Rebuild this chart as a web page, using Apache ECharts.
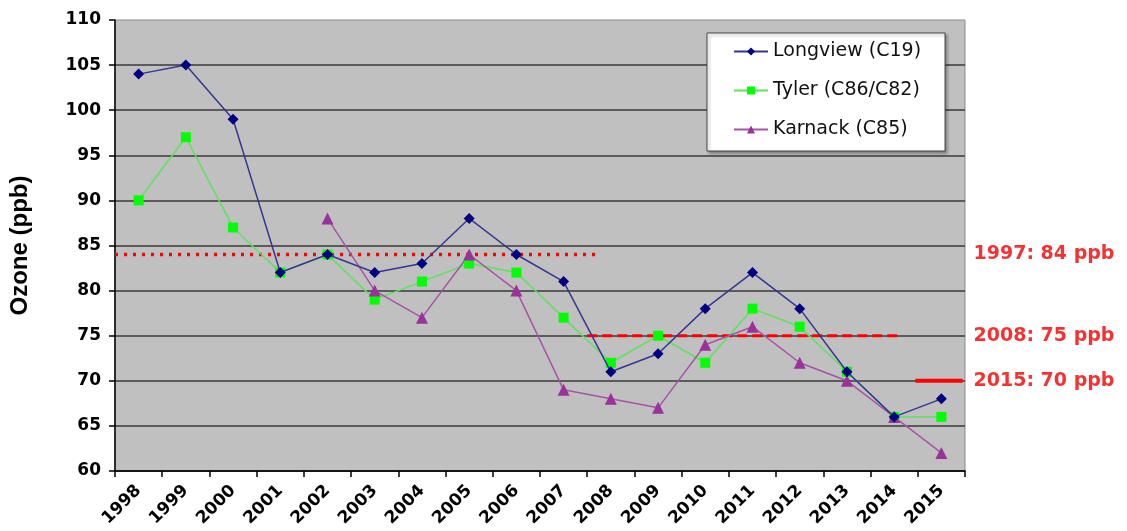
<!DOCTYPE html>
<html>
<head>
<meta charset="utf-8">
<script src="https://cdn.jsdelivr.net/npm/echarts@6/dist/echarts.min.js"></script>
<style>
  html, body { margin: 0; padding: 0; background: #fff; }
  #chart { width: 1127px; height: 531px; }
</style>
</head>
<body>
<div id="chart"></div>
<script>
// Ozone design values, East Texas monitors
const years = ['1998', '1999', '2000', '2001', '2002', '2003', '2004', '2005', '2006',
               '2007', '2008', '2009', '2010', '2011', '2012', '2013', '2014', '2015'];
const longview = [104, 105, 99, 82, 84, 82, 83, 88, 84, 81, 71, 73, 78, 82, 78, 71, 66, 68];
const tyler    = [90, 97, 87, 82, 84, 79, 81, 83, 82, 77, 72, 75, 72, 78, 76, 71, 66, 66];
const karnack  = [null, null, null, null, 88, 80, 77, 84, 80, 69, 68, 67, 74, 76, 72, 70, 66, 62];

// standard lines, x in category-band units (0 = left edge, 18 = right edge)
const std1997 = [[0, 84], [10.2, 84]];
const std2008 = [[10.0, 75], [16.6, 75]];
const std2015 = [[16.95, 70], [17.95, 70]];
const stdLabels = [[18, 84, '1997: 84 ppb'], [18, 75, '2008: 75 ppb'], [18, 70, '2015: 70 ppb']];

const chart = echarts.init(document.getElementById('chart'));

const refLine = (data, type, width) => ({
    type: 'line',
    xAxisIndex: 1,
    data: data,
    showSymbol: false,
    silent: true,
    lineStyle: { color: '#ff0000', width: width, type: type, cap: 'butt' },
    z: 3
});

chart.setOption({
    animation: false,
    grid: {
        left: 115, right: 162, top: 20, bottom: 60,
        show: true,
        backgroundColor: '#c0c0c0',
        borderColor: '#8c8c8c',
        borderWidth: 1,
        outerBoundsMode: 'none'
    },
    legend: {
        orient: 'vertical',
        left: 707,
        top: 33,
        data: ['Longview (C19)', 'Tyler (C86/C82)', 'Karnack (C85)'],
        backgroundColor: '#fff',
        borderColor: '#444',
        borderWidth: 1,
        shadowColor: 'rgba(0,0,0,0.35)',
        shadowBlur: 3,
        shadowOffsetX: 2,
        shadowOffsetY: 2,
        padding: [9, 24, 12, 26],
        itemGap: 20,
        itemWidth: 34,
        itemHeight: 10,
        textStyle: { fontFamily: 'DejaVu Sans', fontSize: 19, color: '#111' }
    },
    xAxis: [{
        type: 'category',
        data: years,
        boundaryGap: true,
        axisLine: { lineStyle: { color: '#000', width: 1.5 } },
        axisTick: { show: true, length: 6, lineStyle: { color: '#000', width: 1.5 } },
        axisLabel: {
            interval: 0, rotate: 45, margin: 17,
            fontFamily: 'DejaVu Sans', fontWeight: 'bold', fontSize: 17, color: '#000'
        },
        splitLine: { show: false }
    }, {
        type: 'value', min: 0, max: 18, show: false
    }],
    yAxis: {
        type: 'value',
        min: 60, max: 110, interval: 5,
        name: 'Ozone (ppb)',
        nameLocation: 'middle',
        nameGap: 83,
        nameTextStyle: { fontFamily: 'Liberation Sans', fontWeight: 'bold', fontSize: 24, color: '#000' },
        axisLine: { show: true, lineStyle: { color: '#000', width: 1.5 } },
        axisTick: { show: true, length: 6, lineStyle: { color: '#000', width: 1.5 } },
        axisLabel: { margin: 14, fontFamily: 'DejaVu Sans', fontWeight: 'bold', fontSize: 17, color: '#000' },
        splitLine: { show: true, showMaxLine: false, lineStyle: { color: '#3a3a3a', width: 1.5 } }
    },
    series: [
        {
            name: 'Longview (C19)', type: 'line', data: longview,
            symbol: 'diamond', symbolSize: 11,
            itemStyle: { color: '#000080' },
            lineStyle: { color: '#36368f', width: 1.5 },
            z: 5
        },
        {
            name: 'Tyler (C86/C82)', type: 'line', data: tyler,
            symbol: 'rect', symbolSize: 10,
            itemStyle: { color: '#00ff00' },
            lineStyle: { color: '#5fe05f', width: 1.5 },
            z: 4
        },
        {
            name: 'Karnack (C85)', type: 'line', data: karnack,
            symbol: 'triangle', symbolSize: 12,
            itemStyle: { color: '#993399' },
            lineStyle: { color: '#a455a4', width: 1.5 },
            z: 4
        },
        refLine(std1997, [3, 6], 3.5),
        refLine(std2008, [10, 5], 3),
        refLine(std2015, 'solid', 4),
        {
            type: 'scatter',
            xAxisIndex: 1,
            data: stdLabels,
            symbolSize: 1,
            clip: false,
            silent: true,
            itemStyle: { color: 'rgba(0,0,0,0)' },
            label: {
                show: true, position: 'right', distance: 8,
                formatter: p => p.data[2],
                fontFamily: 'DejaVu Sans', fontWeight: 'bold', fontSize: 19, color: '#f00000'
            }
        }
    ]
});
</script>
</body>
</html>
